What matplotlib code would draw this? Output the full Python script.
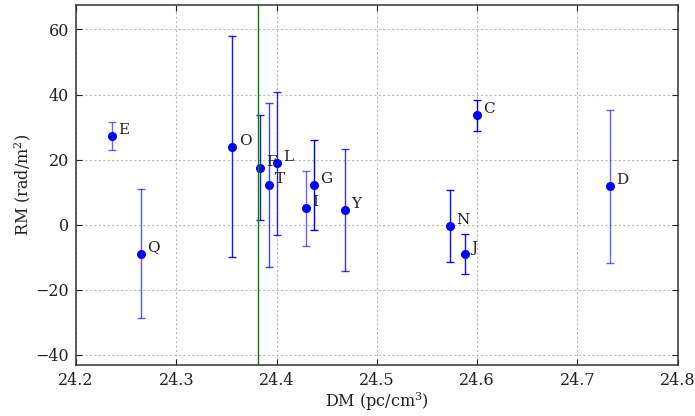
import matplotlib
matplotlib.use('Agg')
import matplotlib.pyplot as plt

plt.rcParams['font.family'] = 'DejaVu Serif'
plt.rcParams['mathtext.fontset'] = 'dejavuserif'

# source labels, dispersion measure, rotation measure and 1-sigma errors
names = ['E', 'Q', 'O', 'F', 'T', 'L', 'I', 'G', 'Y', 'N', 'J', 'C', 'D']
dm = [24.236, 24.265, 24.356, 24.383, 24.392, 24.400, 24.429, 24.437,
      24.468, 24.573, 24.588, 24.600, 24.732]
rm = [27.3, -8.9, 24.0, 17.5, 12.2, 18.9, 5.0, 12.2, 4.6, -0.4, -8.9, 33.6, 11.8]
rm_err = [4.2, 19.8, 34.0, 16.2, 25.2, 22.0, 11.6, 13.8, 18.7, 11.2, 6.2, 4.8, 23.6]
bar_alpha = [0.6, 0.65, 0.9, 0.9, 0.75, 0.85, 0.6, 1.0, 0.8, 0.95, 0.95, 1.0, 0.6]
dm_ref = 24.381

fig = plt.figure(figsize=(6.95, 4.16), dpi=100)
ax = fig.add_axes([0.1094, 0.1226, 0.8657, 0.8661])

for x, y, e, a in zip(dm, rm, rm_err, bar_alpha):
    ax.errorbar(x, y, yerr=e, fmt='none', ecolor='blue', elinewidth=1.0,
                capsize=3, capthick=1, alpha=a)
ax.plot(dm, rm, 'o', color='blue', markersize=5.5, markeredgecolor='blue')
for x, y, n in zip(dm, rm, names):
    ax.annotate(n, (x, y), xytext=(4.5, 1.5), textcoords='offset points',
                ha='left', va='baseline', fontsize=11, color='#222222')

ax.axvline(dm_ref, color='green', linewidth=1)

ax.set_xlim(24.2, 24.8)
ax.set_ylim(-43.1, 67.6)
ax.set_xticks([24.2, 24.3, 24.4, 24.5, 24.6, 24.7, 24.8])
ax.set_yticks([-40, -20, 0, 20, 40, 60])
ax.grid(True, linestyle=(0, (2, 2)), color='#bbbbbb', linewidth=0.8)
ax.tick_params(direction='in', top=True, right=True, length=4,
               labelsize=11.5, colors='#222222', pad=5)
for s in ax.spines.values():
    s.set_color('#333333')
    s.set_linewidth(1.1)

ax.set_xlabel('DM (pc/cm$^3$)', fontsize=11.5, color='#222222', labelpad=1)
ax.set_ylabel('RM (rad/m$^2$)', fontsize=11.5, color='#222222', labelpad=2)

fig.savefig('out.png', dpi=100)
